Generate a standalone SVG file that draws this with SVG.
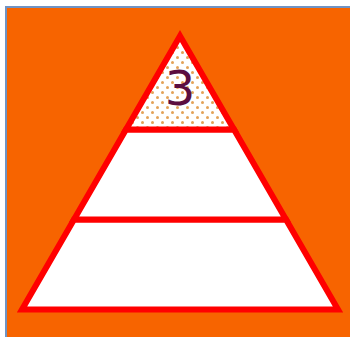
<svg xmlns="http://www.w3.org/2000/svg" width="350" height="337" viewBox="0 0 350 337">
  <style>
    .layer { stroke: #FF0000; stroke-width: 6; stroke-linejoin: miter; stroke-miterlimit: 10; }
    .plain { fill: #FFFFFF; }
    .dotted { fill: url(#dots); }
    .label { font-family: "DejaVu Sans", sans-serif; font-size: 48px; fill: #5C0E40; text-anchor: middle; }
  </style>
  <defs>
    <pattern id="dots" patternUnits="userSpaceOnUse" width="10" height="10">
      <rect width="10" height="10" fill="#FFFFFF"/>
      <circle cx="2.5" cy="2.5" r="1.5" fill="#E3A257"/>
      <circle cx="7.5" cy="7.5" r="1.5" fill="#E3A257"/>
    </pattern>
  </defs>
  <rect x="0" y="0" width="350" height="337" fill="#FFFFFF"/>
  <rect x="6" y="7" width="360" height="350" fill="#F76400" stroke="#6F93C4" stroke-width="2"/>
  <g id="layer-bottom">
    <polygon class="layer plain" points="74,219.5 286,219.5 338,309.5 22,309.5"/>
  </g>
  <g id="layer-middle">
    <polygon class="layer plain" points="126,129.5 234,129.5 286,219.5 74,219.5"/>
  </g>
  <g id="layer-top">
    <polygon class="layer dotted" points="180,36 234,129.5 126,129.5"/>
    <text class="label" x="180" y="105">3</text>
  </g>
</svg>
